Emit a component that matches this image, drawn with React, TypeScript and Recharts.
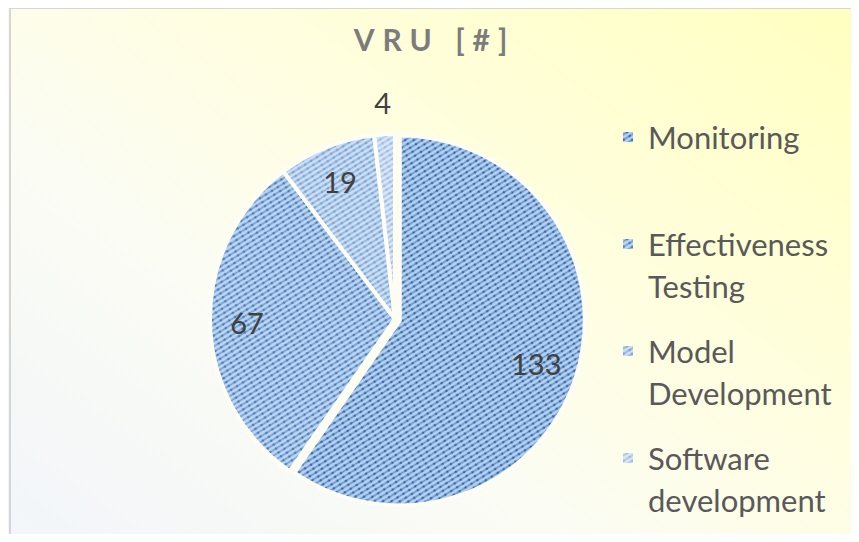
import React from "react";
import { PieChart, Pie, Cell, Legend, Sector } from "recharts";

const categories = ["Monitoring", "Effectiveness Testing", "Model Development", "Software development"];
const legendLines = [["Monitoring"], ["Effectiveness", "Testing"], ["Model", "Development"], ["Software", "development"]];
const values = [133, 67, 19, 4];

const patterns = [
  { id: "p0", base: "#b9d1ed", line: "#5f93d0", dot: "#1f5c9f" },
  { id: "p1", base: "#c0d6ef", line: "#6c9cd5", dot: "#3470b5" },
  { id: "p2", base: "#cddff3", line: "#8cb2df", dot: "#6f9bd0" },
  { id: "p3", base: "#d9e6f6", line: "#a9c6e8", dot: "#93b6e0" },
];

const data = categories.map((name, i) => ({ name, value: values[i] }));

const CX = 395;
const CY = 319;
const R = 185;
const RAD = Math.PI / 180;

const renderShape = (props: any) => {
  const { cx, cy, midAngle, index } = props;
  // Monitoring slice is pulled out a little
  const off = index === 0 ? 5 : 0;
  const dx = off * Math.cos(-midAngle * RAD);
  const dy = off * Math.sin(-midAngle * RAD);
  return <Sector {...props} cx={cx + dx} cy={cy + dy} />;
};

const renderLabel = (props: any) => {
  const { cx, cy, midAngle, outerRadius, percent, value } = props;
  const r = percent < 0.05 ? outerRadius + 32 : outerRadius * 0.8;
  const x = cx + r * Math.cos(-midAngle * RAD);
  const y = cy + r * Math.sin(-midAngle * RAD);
  return (
    <text x={x} y={y} fill="#404040" fontSize={29} fontFamily="Lato, sans-serif" textAnchor="middle" dominantBaseline="central">
      {value}
    </text>
  );
};

const renderLegend = () => (
  <div style={{ fontFamily: "Lato, sans-serif", fontSize: 31, color: "#595959", lineHeight: "42px" }}>
    {legendLines.map((lines, i) => (
      <div key={i} style={{ position: "relative", paddingLeft: 25, marginBottom: i === 0 ? 65 : 23 }}>
        <svg width={10} height={10} style={{ position: "absolute", left: 0, top: 16 }}>
          <rect width={10} height={10} fill={`url(#${patterns[i].id})`} />
        </svg>
        {lines.map((l) => (
          <div key={l}>{l}</div>
        ))}
      </div>
    ))}
  </div>
);

export default function App() {
  return (
    <div
      style={{
        position: "relative",
        width: 859,
        height: 542,
        margin: -8,
        overflow: "hidden",
        background: "linear-gradient(35deg, #f2f5fa 0%, #fbfcf4 35%, #fffee0 60%, #ffffbf 100%)",
      }}
    >
      <div
        style={{
          position: "absolute",
          left: 9,
          top: 7,
          width: 900,
          height: 600,
          borderLeft: "2px solid #d6d6d6",
          borderTop: "2px solid #d6d6d6",
        }}
      />
      <div
        style={{
          position: "absolute",
          left: 0,
          top: 21,
          width: 859,
          textAlign: "center",
          fontFamily: "Lato, sans-serif",
          fontSize: 30,
          fontWeight: 700,
          letterSpacing: 8,
          color: "#7c7c7c",
        }}
      >
        <span style={{ position: "relative", left: 5 }}>VRU [#]</span>
      </div>
      <PieChart
        width={859}
        height={542}
        margin={{ top: 0, right: 0, bottom: 0, left: 0 }}
        style={{ position: "absolute", left: 0, top: 0 }}
      >
        <defs>
          {patterns.map((p) => (
            <pattern
              key={p.id}
              id={p.id}
              width={7}
              height={4.6}
              patternUnits="userSpaceOnUse"
              patternTransform="rotate(-32)"
            >
              <rect width={7} height={4.6} fill={p.base} />
              <line x1={0} y1={2.3} x2={7} y2={2.3} stroke={p.line} strokeWidth={1.6} />
              <circle cx={3.5} cy={2.3} r={1.1} fill={p.dot} />
            </pattern>
          ))}
        </defs>
        <Pie
          data={data}
          dataKey="value"
          nameKey="name"
          cx={CX}
          cy={CY}
          outerRadius={R}
          startAngle={90}
          endAngle={-270}
          stroke="#fdfdf3"
          strokeWidth={4}
          label={renderLabel}
          labelLine={false}
          shape={renderShape}
          isAnimationActive={false}
        >
          {data.map((d, i) => (
            <Cell key={d.name} fill={`url(#${patterns[i].id})`} />
          ))}
        </Pie>
        <Legend
          layout="vertical"
          verticalAlign="top"
          align="right"
          content={renderLegend}
          wrapperStyle={{ position: "absolute", left: 623, top: 116, width: 236 }}
        />
      </PieChart>
    </div>
  );
}
